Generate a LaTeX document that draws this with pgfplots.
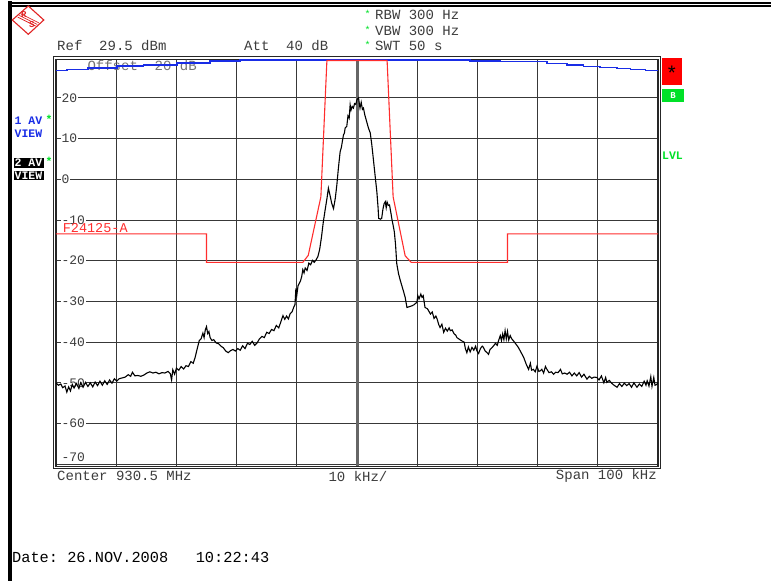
\documentclass[border=0pt]{standalone}
\usepackage{pgfplots}
\pgfplotsset{compat=1.18}
\usepackage{pgfplotstable}
\usepackage{fontspec}
\setmainfont{Liberation Mono}

\definecolor{rsred}{RGB}{225,35,35}
\definecolor{limred}{RGB}{255,45,45}
\definecolor{trblue}{RGB}{25,45,230}
\definecolor{lvlgreen}{RGB}{0,225,40}
\definecolor{txt}{RGB}{60,60,60}

% trace 2 (AV, black): frequency offset in kHz, level in dBm
\pgfplotstableread{
k d
-50 -50.0
-49.6 -50.6
-49.2 -50.3
-48.9 -51.2
-48.5 -50.8
-48.2 -52.3
-47.9 -51.0
-47.6 -52.0
-47.3 -50.4
-47.0 -51.3
-46.6 -50.2
-46.2 -51.4
-45.9 -50.0
-45.5 -51.1
-45.1 -49.9
-44.7 -50.9
-44.3 -50.0
-43.9 -51.0
-43.5 -49.8
-43.1 -50.7
-42.7 -49.6
-42.3 -50.6
-41.9 -49.5
-41.5 -50.4
-41.1 -49.3
-40.7 -50.1
-40.3 -49.0
-39.9 -49.6
-39.5 -49.0
-39.0 -48.8
-38.5 -48.6
-38.0 -48.0
-37.6 -48.4
-37.3 -47.4
-36.9 -48.3
-36.4 -48.2
-35.9 -48.4
-35.4 -48.1
-34.9 -47.6
-34.4 -47.3
-33.9 -47.6
-33.4 -47.4
-32.9 -47.8
-32.4 -47.5
-31.9 -47.6
-31.4 -47.2
-31.0 -47.8
-30.8 -49.3
-30.6 -46.8
-30.3 -47.9
-30.0 -46.4
-29.6 -46.9
-29.2 -46.0
-28.8 -46.6
-28.4 -45.8
-28.0 -46.0
-27.6 -44.8
-27.2 -45.2
-26.9 -43.8
-26.6 -42.0
-26.4 -40.8
-26.2 -39.6
-25.9 -39.2
-25.6 -37.8
-25.4 -38.9
-25.2 -37.0
-25.0 -36.2
-24.8 -37.9
-24.6 -37.4
-24.4 -38.9
-24.1 -39.6
-23.8 -39.4
-23.4 -40.2
-23.0 -40.4
-22.6 -41.0
-22.2 -41.4
-21.8 -42.2
-21.4 -42.6
-21.0 -42.1
-20.6 -41.8
-20.2 -42.2
-19.8 -41.6
-19.4 -42.0
-19.0 -40.9
-18.6 -41.6
-18.2 -40.3
-17.8 -40.6
-17.4 -39.8
-17.0 -40.8
-16.6 -40.2
-16.2 -39.2
-15.8 -38.6
-15.4 -38.9
-15.0 -37.6
-14.6 -37.9
-14.2 -36.9
-13.8 -37.2
-13.4 -35.9
-13.0 -36.5
-12.6 -34.8
-12.3 -33.5
-12.0 -34.4
-11.7 -33.6
-11.4 -34.3
-11.1 -33.0
-10.8 -32.6
-10.5 -31.4
-10.3 -30.8
-10.15 -26.8
-10.0 -28.5
-9.8 -26.2
-9.6 -25.6
-9.4 -25.0
-9.2 -24.0
-9.0 -22.2
-8.8 -23.0
-8.6 -21.8
-8.3 -22.4
-8.0 -20.6
-7.7 -21.0
-7.4 -19.9
-7.1 -20.4
-6.8 -19.8
-6.5 -19.0
-6.2 -17.2
-5.9 -14.2
-5.6 -10.5
-5.3 -7.6
-5.0 -4.8
-4.75 -2.2
-4.5 -3.8
-4.2 -5.9
-3.9 -7.2
-3.6 -4.6
-3.35 -1.4
-3.1 2.6
-2.8 6.8
-2.6 7.8
-2.4 9.6
-2.25 10.9
-2.1 11.3
-1.97 12.6
-1.7 13.0
-1.5 15.6
-1.3 15.0
-1.14 18.3
-1.0 17.0
-0.8 17.9
-0.6 17.5
-0.4 18.6
-0.2 18.4
0.0 19.6
0.26 20.0
0.4 18.4
0.5 17.5
0.7 18.9
0.9 17.2
1.07 17.5
1.3 15.8
1.6 14.2
1.9 12.6
2.2 11.4
2.45 8.6
2.7 5.2
3.0 1.0
3.3 -3.1
3.5 -7.0
3.6 -9.6
3.9 -9.8
4.1 -9.6
4.3 -7.4
4.5 -6.0
4.7 -5.5
4.85 -7.0
5.0 -5.6
5.2 -6.4
5.4 -6.3
5.6 -8.0
5.8 -9.8
6.0 -11.3
6.2 -12.9
6.4 -16.0
6.6 -20.7
6.9 -23.2
7.2 -24.9
7.5 -26.4
7.7 -27.4
8.0 -29.0
8.3 -31.5
8.7 -31.3
9.1 -31.1
9.5 -30.8
9.95 -30.2
10.1 -28.6
10.3 -29.4
10.6 -28.2
10.8 -29.0
11.0 -28.6
11.3 -31.5
11.7 -31.8
12.2 -33.1
12.5 -32.6
12.8 -34.2
13.1 -33.6
13.3 -34.3
13.6 -35.8
13.8 -36.4
14.1 -35.6
14.4 -37.6
14.7 -36.6
15.0 -37.3
15.3 -36.5
15.5 -37.2
15.8 -37.0
16.1 -37.9
16.4 -38.3
16.6 -38.9
17.0 -39.3
17.4 -39.7
17.8 -40.0
18.0 -41.6
18.25 -42.6
18.5 -41.2
18.8 -42.4
19.1 -41.3
19.4 -42.0
19.7 -41.0
19.9 -42.1
20.2 -42.8
20.5 -41.6
20.8 -41.0
21.0 -41.3
21.3 -42.2
21.6 -42.6
21.85 -43.0
22.1 -41.8
22.4 -41.4
22.7 -40.9
23.0 -40.3
23.3 -40.8
23.5 -39.7
23.8 -38.4
24.0 -39.6
24.2 -38.0
24.4 -39.4
24.6 -37.2
24.8 -39.2
25.0 -37.4
25.2 -39.5
25.45 -38.4
25.7 -39.2
26.0 -39.7
26.4 -40.5
26.8 -41.3
27.2 -42.4
27.7 -43.8
28.1 -45.4
28.5 -46.7
28.8 -45.2
29.0 -46.9
29.3 -46.7
29.6 -47.3
29.9 -45.9
30.2 -47.2
30.4 -47.1
30.7 -46.7
31.0 -47.6
31.3 -46.0
31.55 -46.7
31.9 -47.5
32.3 -47.3
32.65 -47.9
33.0 -47.4
33.4 -47.5
33.8 -46.7
34.1 -47.8
34.5 -47.6
34.9 -47.9
35.3 -47.4
35.7 -48.3
36.1 -47.6
36.5 -48.3
36.9 -47.5
37.3 -48.6
37.7 -47.9
38.2 -49.1
38.6 -48.4
39.0 -48.9
39.4 -48.6
39.85 -48.7
40.2 -49.3
40.6 -48.3
41.0 -50.0
41.3 -48.7
41.5 -49.9
41.9 -49.4
42.3 -50.1
42.7 -50.6
43.2 -51.1
43.6 -50.2
44.0 -50.9
44.4 -50.1
44.8 -50.7
45.2 -50.2
45.6 -51.1
46.0 -50.0
46.5 -51.1
46.9 -50.3
47.3 -50.9
47.7 -49.6
48.0 -50.6
48.2 -49.5
48.5 -50.8
48.8 -48.5
49.0 -50.9
49.3 -48.7
49.5 -50.6
49.8 -50.4
50.0 -49.9
}\traceB

% trace 1 (AV, blue), stepped
\pgfplotstableread{
k d
-50 26.7
-48.2 27.0
-44.7 27.4
-39.9 27.8
-35.5 28.05
-29.9 28.6
-24.4 29.1
-19.4 29.3
-12.8 29.35
12.2 29.3
18.8 29.1
23.8 28.9
31.6 28.4
34.9 28.05
37.6 27.7
40.4 27.5
43.2 27.2
45.4 27.0
47.9 26.7
50 26.7
}\traceA

% limit line F24125-A
\pgfplotstableread{
k d
-50 -13.4
-25 -13.4
-25 -20.4
-9 -20.4
-8.1 -18.7
-6 -4.3
-5 29.2
5 29.2
6 -4.3
8 -18.8
9 -20.4
25 -20.4
25 -13.4
50 -13.4
}\limitA

\begin{document}
\begin{tikzpicture}[x=1pt,y=1pt,font=\fontsize{14}{16}\selectfont]
\useasboundingbox (0,0) rectangle (771,581);

\begin{scope}[every node/.style={inner sep=0pt}]
% screen border
\fill (8.3,0) rectangle (11.7,579.5);
\draw[line width=2pt] (8.3,578.3) -- (771,578.3);
\draw[line width=2pt] (8.3,575.3) -- (771,575.3);

% R&S logo
\begin{scope}[shift={(28.3,561)}]
  \draw[rsred,line width=1.1pt,fill=white] (-16,0) -- (0,14) -- (15.5,0) -- (0,-14.3) -- cycle;
  \foreach \o in {-1.6,0,1.6}
    \draw[rsred,line width=0.7pt] (-9+\o,4.5+\o) -- (9+\o,-4.5+\o);
  \node[text=rsred,font=\fontsize{9}{9}\selectfont\bfseries] at (-4.5,5) {R};
  \node[text=rsred,font=\fontsize{9}{9}\selectfont\bfseries] at (3.5,-4.8) {S};
\end{scope}

% header
\node[anchor=west,text=txt] at (57,535) {Ref~~29.5~dBm};
\node[anchor=west,text=txt] at (244,535) {Att~~40~dB};
\foreach \yy/\lab in {566/RBW~300~Hz,550/VBW~300~Hz,535/SWT~50~s}{
  \node[text=lvlgreen,font=\fontsize{10}{10}\selectfont] at (367.5,\yy+1.5) {*};
  \node[anchor=west,text=txt] at (375,\yy) {\lab};
}

% left trace labels
\begin{scope}[font=\fontsize{11.5}{12}\selectfont\bfseries]
  \node[anchor=west,text=trblue] at (14.5,460) {1 AV};
  \node[text=lvlgreen] at (49,462) {*};
  \node[anchor=west,text=trblue] at (14.5,447) {VIEW};
  \fill (14,413) rectangle (44,423);
  \node[anchor=west,text=white] at (14.5,418) {2 AV};
  \node[text=lvlgreen] at (49,420) {*};
  \fill (14,401) rectangle (44,410.3);
  \node[anchor=west,text=white] at (14.5,405.6) {VIEW};
\end{scope}

% right status boxes
\fill[red] (661.7,496) rectangle (682,523);
\node[font=\fontsize{20}{20}\selectfont] at (671.8,508) {*};
\fill[lvlgreen] (662,479.3) rectangle (684,492);
\node[text=white,font=\fontsize{9}{9}\selectfont\bfseries] at (673,485.6) {B};
\node[text=lvlgreen,font=\fontsize{11.5}{12}\selectfont\bfseries] at (672.5,425) {LVL};

% footer
\node[anchor=west,text=txt] at (57,105) {Center~930.5~MHz};
\node[text=txt] at (358,105) {10~kHz/};
\node[anchor=east,text=txt] at (657,105) {Span~100~kHz};
\node[anchor=west,font=\fontsize{15.3}{17}\selectfont] at (12,24) {Date:~26.NOV.2008~~~10:22:43};
\end{scope}

% data (0,0) sits at pixel (357,179.3) of the screen
\begin{axis}[
  at={(357pt,401.7pt)}, anchor=origin,
  scale only axis, width=602pt, height=407pt,
  xmin=-50, xmax=50, ymin=-70.5, ymax=29.5,
  xtick={-40,-30,...,40}, ytick={-70,-60,...,20},
  xticklabels={}, yticklabels={},
  major tick length=0pt,
  grid=major,
  grid style={black!78,line width=0.9pt},
  axis line style={black!85,line width=1.3pt},
  clip=true,
]
  \draw[black!60,line width=3pt] (axis cs:0,-70.5) -- (axis cs:0,29.5);
  \pgfplotsinvokeforeach{20,10,0,-10,-20,-30,-40,-50,-60}{
    \node[anchor=west,fill=white,inner xsep=0.6pt,inner ysep=0pt,text=txt,
      font=\fontsize{13}{13}\selectfont] at (axis cs:-49.2,#1) {#1};
  }
  \node[anchor=west,fill=white,inner xsep=0.6pt,inner ysep=0pt,text=txt,
      font=\fontsize{13}{13}\selectfont] at (axis cs:-49.2,-68.4) {-70};
  \node[anchor=west,inner sep=0pt,text=black!55] at (axis cs:-44.8,27.9) {Offset~~20~dB};
  \node[anchor=west,inner sep=0pt,text=limred,font=\fontsize{13.5}{14}\selectfont]
    at (axis cs:-48.9,-12.1) {F24125-A};

  \addplot[const plot, trblue, line width=1.5pt] table[x=k,y=d] {\traceA};
  \addplot[limred, line width=1.1pt] table[x=k,y=d] {\limitA};
  \addplot[black, line width=1.1pt] table[x=k,y=d] {\traceB};
\end{axis}
\draw[black!85,line width=0.9pt] (53.8,112.8) rectangle (660.2,524.2);
\end{tikzpicture}
\end{document}
